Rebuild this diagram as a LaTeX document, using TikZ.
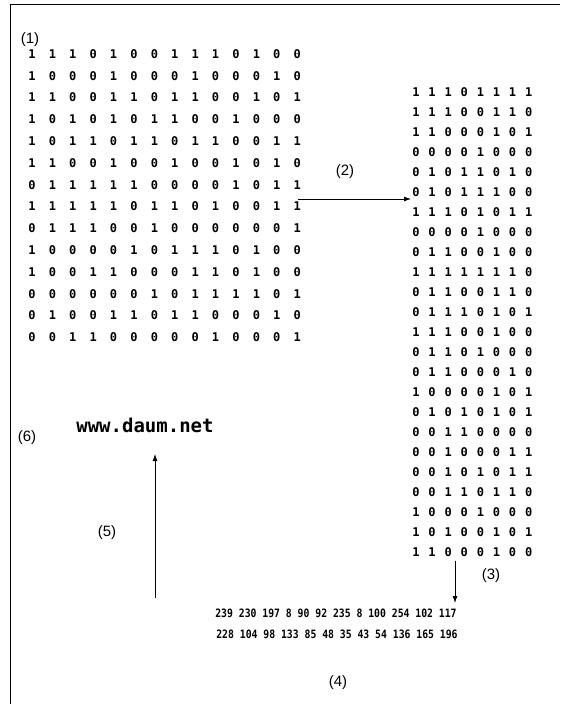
\documentclass[tikz,border=0pt]{standalone}
\usepackage{fontspec}
\setmainfont{Liberation Sans}
\setmonofont{DejaVu Sans Mono}
\newfontfamily\narrowmono{DejaVu Sans Mono}[FakeStretch=0.85]
\usetikzlibrary{arrows.meta,positioning}

\begin{document}
\begin{tikzpicture}[
  x=1pt,y=-1pt,
  bit/.style={inner sep=0pt,font=\ttfamily\bfseries\fontsize{12}{12}\selectfont},
  num/.style={inner sep=0pt,font=\narrowmono\bfseries\fontsize{11.5}{12}\selectfont},
  lbl/.style={inner sep=0pt,font=\fontsize{15}{15}\selectfont},
  url/.style={inner sep=0pt,font=\ttfamily\bfseries\fontsize{19}{19}\selectfont},
  arr/.style={-{Latex[length=7pt,width=5pt]},thick}
]
\useasboundingbox (0,0) rectangle (566,704);

% frame
\draw[thick] (10,704) -- (10,4) -- (560,4);

% (1) the bit field
\node[lbl] (t1) at (30,40) {(1)};
\foreach \bits [count=\j] in {
  {1,1,1,0,1,0,0,1,1,1,0,1,0,0},
  {1,0,0,0,1,0,0,0,1,0,0,0,1,0},
  {1,1,0,0,1,1,0,1,1,0,0,1,0,1},
  {1,0,1,0,1,0,1,1,0,0,1,0,0,0},
  {1,0,1,1,0,1,1,0,1,1,0,0,1,1},
  {1,1,0,0,1,0,0,1,0,0,1,0,1,0},
  {0,1,1,1,1,1,0,0,0,0,1,0,1,1},
  {1,1,1,1,1,0,1,1,0,1,0,0,1,1},
  {0,1,1,1,0,0,1,0,0,0,0,0,0,1},
  {1,0,0,0,0,1,0,1,1,1,0,1,0,0},
  {1,0,0,1,1,0,0,0,1,1,0,1,0,0},
  {0,0,0,0,0,0,1,0,1,1,1,1,0,1},
  {0,1,0,0,1,1,0,1,1,0,0,0,1,0},
  {0,0,1,1,0,0,0,0,0,1,0,0,0,1}}
  \foreach \b [count=\i] in \bits
    \node[bit] (L-\j-\i) at ({32+20.4*(\i-1)},{54+21.8*(\j-1)}) {\b};

% (2) regrouped in bytes
\node[lbl] (t2) at (345,172) {(2)};
\foreach \bits [count=\j] in {
  {1,1,1,0,1,1,1,1},{1,1,1,0,0,1,1,0},{1,1,0,0,0,1,0,1},{0,0,0,0,1,0,0,0},
  {0,1,0,1,1,0,1,0},{0,1,0,1,1,1,0,0},{1,1,1,0,1,0,1,1},{0,0,0,0,1,0,0,0},
  {0,1,1,0,0,1,0,0},{1,1,1,1,1,1,1,0},{0,1,1,0,0,1,1,0},{0,1,1,1,0,1,0,1},
  {1,1,1,0,0,1,0,0},{0,1,1,0,1,0,0,0},{0,1,1,0,0,0,1,0},{1,0,0,0,0,1,0,1},
  {0,1,0,1,0,1,0,1},{0,0,1,1,0,0,0,0},{0,0,1,0,0,0,1,1},{0,0,1,0,1,0,1,1},
  {0,0,1,1,0,1,1,0},{1,0,0,0,1,0,0,0},{1,0,1,0,0,1,0,1},{1,1,0,0,0,1,0,0}}
  \foreach \b [count=\i] in \bits
    \node[bit] (R-\j-\i) at ({416+16.1*(\i-1)},{92+20*(\j-1)}) {\b};

\coordinate (a2s) at (298,199);
\coordinate (a2e) at (411,199);
\draw[arr] (a2s) -- (a2e);

% (3)/(4) byte values
\node[lbl] (t3) at (491,576) {(3)};
\node[num] (n1) at (336,613) {239 230 197 8 90 92 235 8 100 254 102 117};
\node[num] (n2) at (337,634) {228 104 98 133 85 48 35 43 54 136 165 196};
\node[lbl] (t4) at (338,683) {(4)};
\coordinate (a3s) at (455,561);
\coordinate (a3e) at (455,603);
\draw[arr] (a3s) -- (a3e);

% (5)/(6) decoded text
\node[lbl] (t5) at (107,533) {(5)};
\node[lbl] (t6) at (27,438) {(6)};
\node[url] (u) at (145,425) {www.daum.net};
\coordinate (a5s) at (155,598);
\coordinate (a5e) at (155,454);
\draw[arr] (a5s) -- (a5e);
\end{tikzpicture}
\end{document}
